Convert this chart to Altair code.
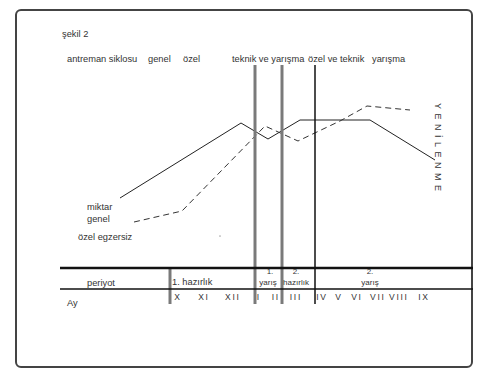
import altair as alt
import pandas as pd

# ---- data (coordinates in page pixels) ----
miktar_x = [120, 241, 268, 300, 370, 435]
miktar_y = [198, 123, 139, 120, 120, 160]

ozel_x = [134, 182, 265, 298, 340, 367, 410]
ozel_y = [222, 211, 126, 141, 121, 106, 110]

top_labels = ["şekil 2", "antreman siklosu", "genel", "özel",
              "teknik ve yarışma", "özel ve teknik", "yarışma"]
top_x = [62, 67, 148, 183, 232, 308, 372]
top_y = [34, 59, 59, 59, 59, 59, 59]

side_labels = ["miktar", "genel", "özel egzersiz", "periyot", "1. hazırlık", "Ay"]
side_x = [87, 87, 78, 87, 172, 67]
side_y = [207, 219, 237, 283, 282, 303]

period_labels = ["1.", "yarış", "2.", "hazırlık", "2.", "yarış"]
period_x = [270, 268, 296, 296, 370, 370]
period_y = [271.5, 283, 271.5, 283, 271.5, 283]

months = ["X", "XI", "XII", "I", "II", "III", "IV", "V", "VI", "VII", "VIII", "IX"]
month_x = [177, 203, 232, 258, 275, 295, 321, 338, 356, 377, 398, 423]
month_y = 297

phase_x = [255, 282, 315]
phase_color = ["#7a7a7a", "#7a7a7a", "#111111"]
phase_width = [3, 3, 1.5]

W, H = 472, 359
xs = alt.Scale(domain=[8, 8 + W], nice=False, zero=False)
ys = alt.Scale(domain=[8, 8 + H], nice=False, zero=False, reverse=True)
X = lambda f: alt.X(f, type="quantitative", scale=xs, axis=None)
Y = lambda f: alt.Y(f, type="quantitative", scale=ys, axis=None)

FONT = "Liberation Sans"
TXT = "#333333"

frame = alt.Chart(pd.DataFrame({"x": [16], "x2": [472], "y": [10], "y2": [367]})).mark_rect(
    fill="white", stroke="#444444", strokeWidth=2, cornerRadius=5
).encode(x=X("x"), x2="x2", y=Y("y"), y2="y2")

miktar = alt.Chart(pd.DataFrame({"x": miktar_x, "y": miktar_y, "o": range(len(miktar_x))})).mark_line(
    color="#222222", strokeWidth=1
).encode(x=X("x"), y=Y("y"), order="o:Q")

ozel = alt.Chart(pd.DataFrame({"x": ozel_x, "y": ozel_y, "o": range(len(ozel_x))})).mark_line(
    color="#333333", strokeWidth=1, strokeDash=[6, 4]
).encode(x=X("x"), y=Y("y"), order="o:Q")

phase_df = pd.DataFrame({"x": phase_x, "y": [65] * 3, "y2": [304] * 3,
                         "c": phase_color, "w": phase_width})
phases = alt.Chart(phase_df).mark_rule().encode(
    x=X("x"), y=Y("y"), y2="y2",
    color=alt.Color("c:N", scale=None),
    strokeWidth=alt.StrokeWidth("w:Q", scale=None),
)

table_v = alt.Chart(pd.DataFrame({"x": [170], "y": [268], "y2": [304]})).mark_rule(
    color="#7a7a7a", strokeWidth=3
).encode(x=X("x"), y=Y("y"), y2="y2")

table_h = alt.Chart(pd.DataFrame({"x": [60, 60], "x2": [473, 473], "y": [268, 289],
                                  "w": [2.5, 1.5]})).mark_rule(color="#111111").encode(
    x=X("x"), x2="x2", y=Y("y"), strokeWidth=alt.StrokeWidth("w:Q", scale=None)
)

def text_layer(labels, xv, yv, align="left", size=9.3):
    df = pd.DataFrame({"t": labels, "x": xv, "y": yv})
    return alt.Chart(df).mark_text(
        align=align, baseline="middle", font=FONT, fontSize=size, color=TXT
    ).encode(x=X("x"), y=Y("y"), text="t:N")

spaced_months = ["\u2009".join(list(m)) for m in months]

top_t = text_layer(top_labels, top_x, top_y)
side_t = text_layer(side_labels, side_x, side_y)
period_t = text_layer(period_labels, period_x, period_y, align="center", size=8)
month_t = text_layer(spaced_months, month_x, [month_y] * len(months), align="center", size=8.5)

yen_text = "\u2002".join(list("YENİLENME"))
yen = alt.Chart(pd.DataFrame({"t": [yen_text], "x": [438], "y": [147]})).mark_text(
    align="center", baseline="middle", angle=90, font=FONT, fontSize=9, color=TXT
).encode(x=X("x"), y=Y("y"), text="t:N")

dot = alt.Chart(pd.DataFrame({"x": [220], "y": [236]})).mark_point(
    filled=True, size=3, color="#888888"
).encode(x=X("x"), y=Y("y"))

chart = alt.layer(
    frame, miktar, ozel, phases, table_v, table_h,
    top_t, side_t, period_t, month_t, yen, dot
).properties(width=W, height=H, padding=0).configure_view(stroke=None)

chart.save("out.html", embed_options={"renderer": "svg", "actions": False})
